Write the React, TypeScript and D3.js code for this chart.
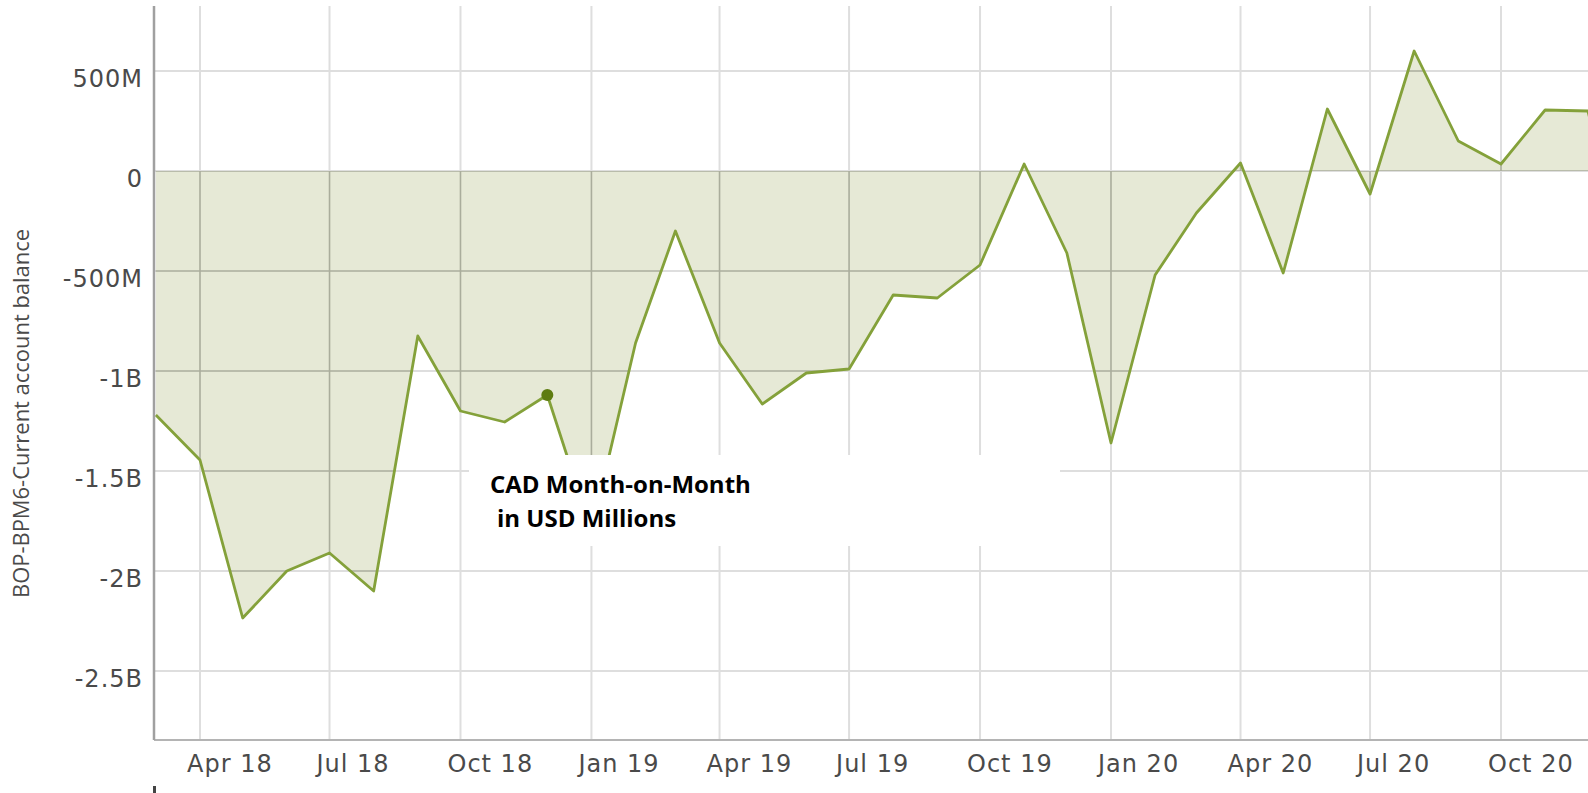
import React from 'react';
import * as d3 from 'd3';

// monthly current account balance, USD millions (first day of month)
const months = [
  '2018-03', '2018-04', '2018-05', '2018-06', '2018-07', '2018-08', '2018-09', '2018-10', '2018-11', '2018-12',
  '2019-01', '2019-02', '2019-03', '2019-04', '2019-05', '2019-06', '2019-07', '2019-08', '2019-09', '2019-10', '2019-11', '2019-12',
  '2020-01', '2020-02', '2020-03', '2020-04', '2020-05', '2020-06', '2020-07', '2020-08', '2020-09', '2020-10', '2020-11', '2020-12',
  '2021-01',
];
const balance = [
  -1220, -1445, -2235, -2000, -1910, -2100, -825, -1200, -1255, -1120,
  -1800, -860, -300, -860, -1165, -1010, -990, -620, -635, -470, 35, -410,
  -1360, -520, -210, 40, -510, 310, -115, 600, 150, 35, 305, 300,
  -500,
];
const yTickValues = [500, 0, -500, -1000, -1500, -2000, -2500];
const xTickMonths = ['2018-04', '2018-07', '2018-10', '2019-01', '2019-04', '2019-07', '2019-10', '2020-01', '2020-04', '2020-07', '2020-10'];
const highlightMonth = '2018-12';
const yTitle = 'BOP-BPM6-Current account balance';
const noteLine1 = 'CAD Month-on-Month';
const noteLine2 = 'in USD Millions';

const W = 1588;
const H = 793;
const left = 154;
const right = W;
const top = 6;
const bottom = 740;

const parse = d3.utcParse('%Y-%m');
const fmtMonth = d3.utcFormat('%b %y');

const fmtY = (v: number) => {
  if (v === 0) return '0';
  if (Math.abs(v) >= 1000) return `${v / 1000}B`;
  return `${v}M`;
};

type Pt = { date: Date; value: number };
const points: Pt[] = months.map((m, i) => ({ date: parse(m)!, value: balance[i] }));

export default function App() {
  const x = d3.scaleUtc()
    .domain([parse('2018-04')!, parse('2020-10')!])
    .range([200, 1501]);
  const y = d3.scaleLinear().domain([-2845, 825]).range([bottom, top]);

  const area = d3.area<Pt>()
    .x(d => x(d.date))
    .y0(y(0))
    .y1(d => y(d.value));
  const line = d3.line<Pt>()
    .x(d => x(d.date))
    .y(d => y(d.value));

  const areaPath = area(points) || '';
  const hl = points[months.indexOf(highlightMonth)];
  const xTicks = xTickMonths.map(m => parse(m)!);

  const grid = (stroke: string, sw: number) => (
    <g stroke={stroke} strokeWidth={sw}>
      {yTickValues.map(v => (
        <line key={'h' + v} x1={left} x2={right} y1={y(v)} y2={y(v)} />
      ))}
      {xTicks.map(d => (
        <line key={'v' + d.getTime()} x1={x(d)} x2={x(d)} y1={top} y2={bottom} />
      ))}
    </g>
  );

  return (
    <svg width={W} height={H} style={{ position: 'absolute', left: 0, top: 0, background: '#fff' }}>
      <defs>
        <clipPath id="plot">
          <rect x={left} y={top} width={right - left} height={bottom - top} />
        </clipPath>
        <clipPath id="fillclip">
          <path d={areaPath} />
        </clipPath>
      </defs>

      {grid('#dedede', 2)}

      <g clipPath="url(#plot)">
        <path d={areaPath} fill="#e6e9d6" />
        <g clipPath="url(#fillclip)">{grid('#aaad9c', 1.6)}</g>
        <path d={line(points) || ''} fill="none" stroke="#84a13a" strokeWidth={2.8} strokeLinejoin="round" />
      </g>

      <line x1={left} x2={right} y1={bottom} y2={bottom} stroke="#b4b4b4" strokeWidth={2} />
      <line x1={left} x2={left} y1={top} y2={bottom} stroke="#a0a0a0" strokeWidth={2.5} />

      <circle cx={x(hl.date)} cy={y(hl.value)} r={6} fill="#5e7c10" />

      <g fontFamily="'DejaVu Sans', Verdana, sans-serif" fontSize={24} fill="#4a4a4a" letterSpacing={1}>
        {yTickValues.map(v => (
          <text key={v} x={143} y={y(v) + 16} textAnchor="end">{fmtY(v)}</text>
        ))}
        {xTicks.map(d => (
          <text key={d.getTime()} x={x(d) - 13} y={772}>{fmtMonth(d)}</text>
        ))}
      </g>

      <text
        transform={`translate(29,${(229 + 598) / 2}) rotate(-90)`}
        textAnchor="middle"
        fontFamily="'Open Sans', sans-serif"
        fontSize={22}
        fill="#4a4a4a"
        textLength={369}
        lengthAdjust="spacingAndGlyphs"
      >
        {yTitle}
      </text>

      <rect x={left - 1} y={786} width={3} height={7} fill="#444" />

      <rect x={469} y={455} width={591} height={91} fill="#fff" />
      <g fontFamily="'Open Sans', sans-serif" fontWeight={700} fontSize={24} fill="#000">
        <text x={490} y={493}>{noteLine1}</text>
        <text x={497} y={527}>{noteLine2}</text>
      </g>
    </svg>
  );
}
